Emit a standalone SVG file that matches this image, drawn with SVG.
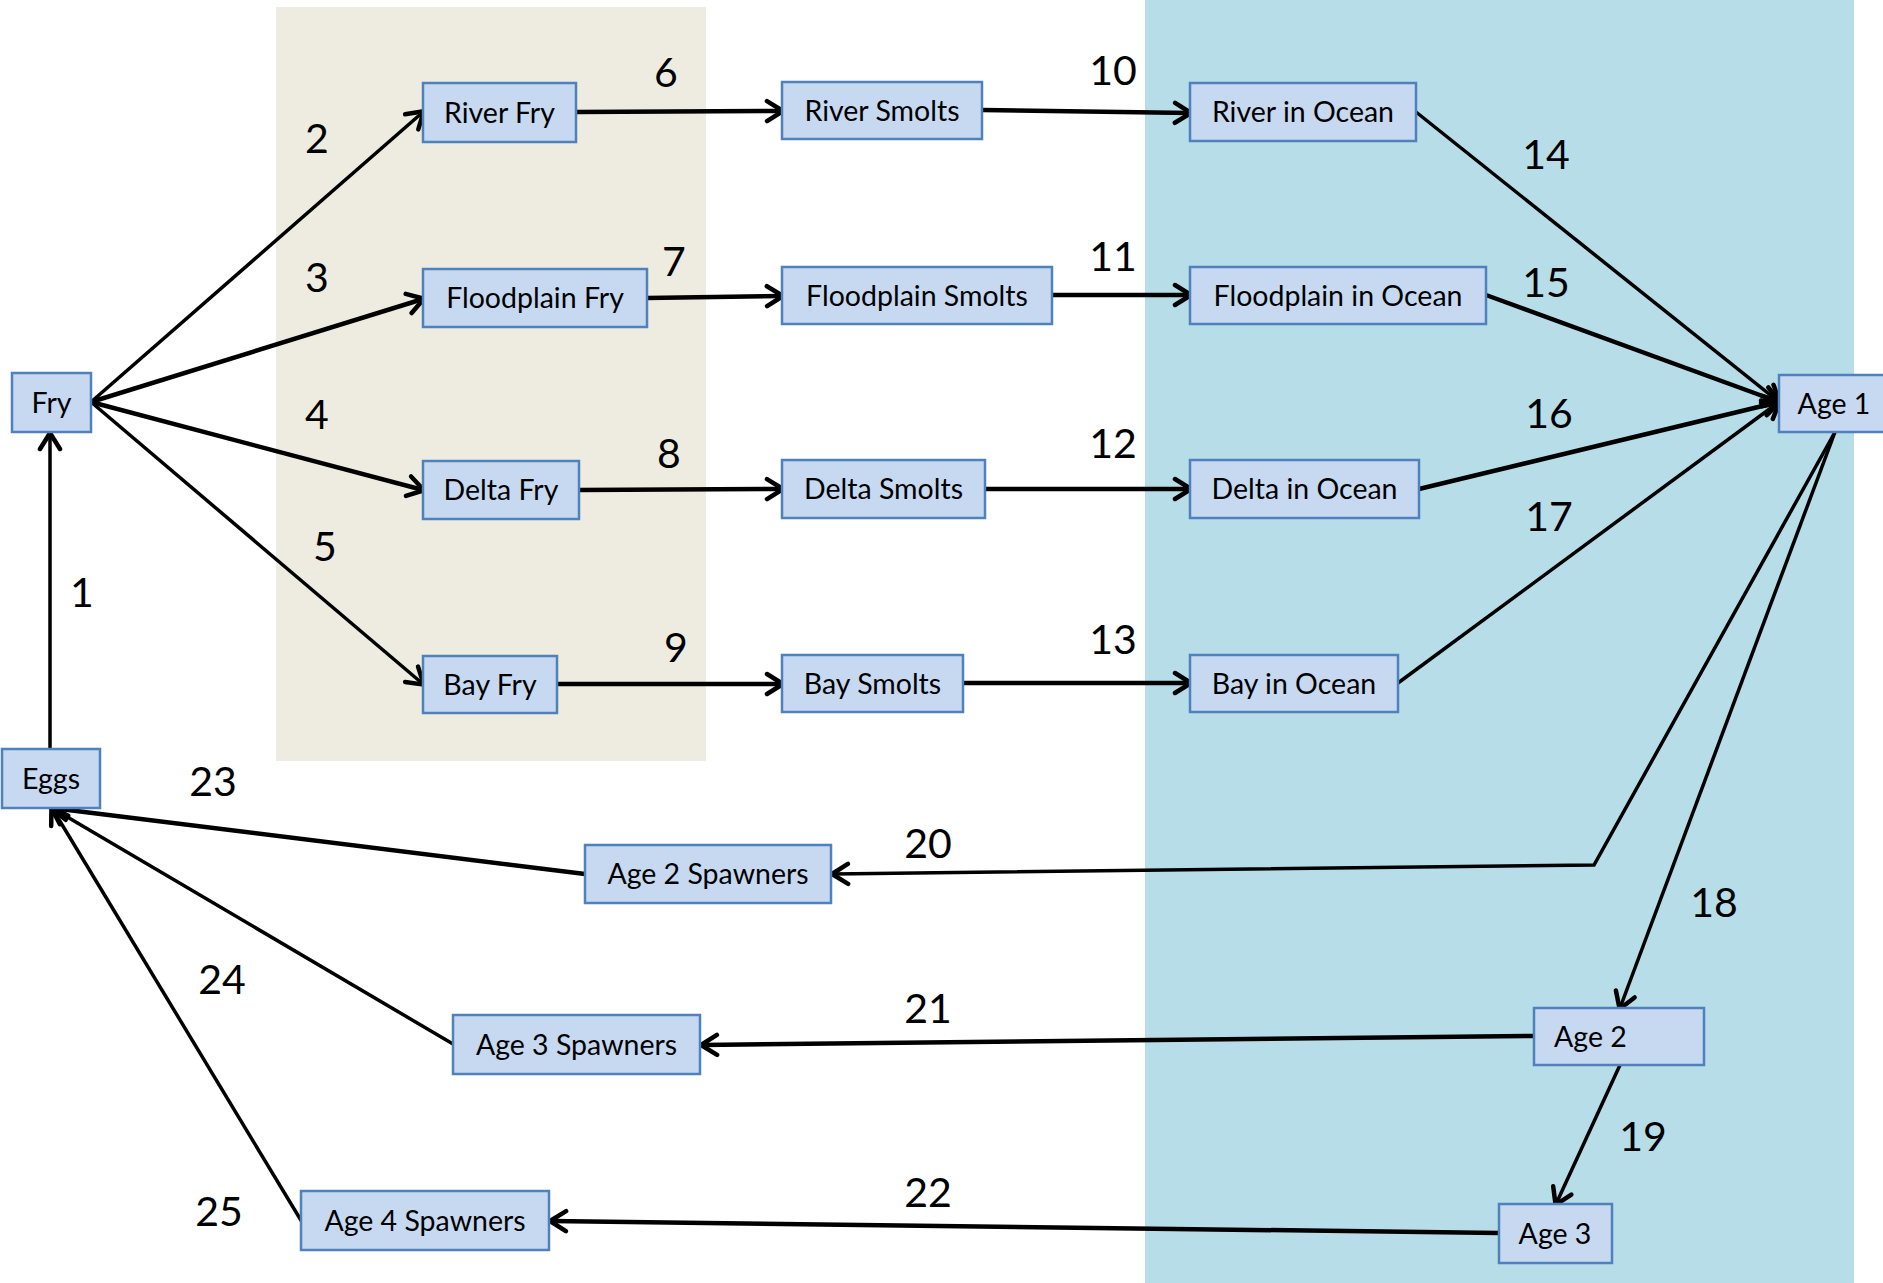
<svg xmlns="http://www.w3.org/2000/svg" width="1883" height="1283" viewBox="0 0 1883 1283">
<style>
.bg{stroke:none}
.n rect{fill:#C6D9F1;stroke:#4F81BD;stroke-width:2.5}
.n text{font-family:Lato,"Liberation Sans",sans-serif;font-size:28.5px;fill:#000;text-anchor:middle}
.lbl{font-family:Lato,"Liberation Sans",sans-serif;font-size:41px;fill:#000;text-anchor:middle}
.c line,.c polyline{stroke:#000;fill:none;stroke-width:4.5;marker-end:url(#ah)}
.c .t{stroke-width:3.5}
</style>
<defs>
<marker id="ah" markerUnits="userSpaceOnUse" viewBox="0 0 22 26" refX="18" refY="13" markerWidth="22" markerHeight="26" orient="auto">
<path d="M3,3 L19,13 L3,23" fill="none" stroke="#000" stroke-width="4.5" stroke-linecap="round" stroke-linejoin="round"/>
</marker>
</defs>
<rect class="bg" x="276" y="7" width="430" height="754" fill="#EEECE1"/>
<rect class="bg" x="1145" y="0" width="709" height="1283" fill="#B7DDE8"/>
<g id="connectors" class="c">
<line class="t" x1="50" y1="749" x2="50" y2="434"/>
<line class="t" x1="91" y1="402" x2="423" y2="112"/>
<line x1="91" y1="402" x2="423" y2="299"/>
<line x1="91" y1="402" x2="423" y2="490"/>
<line class="t" x1="91" y1="402" x2="423" y2="684"/>
<line x1="576" y1="112" x2="782" y2="111"/>
<line x1="647" y1="298" x2="782" y2="296"/>
<line x1="579" y1="490" x2="782" y2="489"/>
<line x1="557" y1="684" x2="782" y2="684"/>
<line x1="982" y1="110" x2="1190" y2="113"/>
<line x1="1052" y1="295" x2="1190" y2="295"/>
<line x1="985" y1="489" x2="1190" y2="489"/>
<line x1="963" y1="683" x2="1190" y2="683"/>
<line class="t" x1="1416" y1="112" x2="1779" y2="402"/>
<line x1="1486" y1="295" x2="1779" y2="402"/>
<line x1="1419" y1="489" x2="1779" y2="402"/>
<line class="t" x1="1398" y1="683" x2="1779" y2="402"/>
<line class="t" x1="1835" y1="432" x2="1620" y2="1008"/>
<line class="t" x1="1620" y1="1065" x2="1556" y2="1204"/>
<polyline class="t" points="1835,432 1594,865 833,874"/>
<line x1="1534" y1="1036" x2="702" y2="1045"/>
<line x1="1499" y1="1233" x2="551" y2="1221"/>
<line x1="585" y1="874" x2="52" y2="808"/>
<line class="t" x1="453" y1="1044" x2="52" y2="808"/>
<line class="t" x1="302" y1="1222" x2="52" y2="808"/>
</g>
<g id="fry" class="n"><rect x="12" y="373" width="79" height="59"/><text x="51.5" y="413">Fry</text></g>
<g id="eggs" class="n"><rect x="2" y="749" width="98" height="59"/><text x="51" y="789">Eggs</text></g>
<g id="river-fry" class="n"><rect x="423" y="83" width="153" height="59"/><text x="499.5" y="123">River Fry</text></g>
<g id="floodplain-fry" class="n"><rect x="423" y="269" width="224" height="58"/><text x="535" y="308">Floodplain Fry</text></g>
<g id="delta-fry" class="n"><rect x="423" y="461" width="156" height="58"/><text x="501" y="500">Delta Fry</text></g>
<g id="bay-fry" class="n"><rect x="423" y="656" width="134" height="57"/><text x="490" y="695">Bay Fry</text></g>
<g id="river-smolts" class="n"><rect x="782" y="82" width="200" height="57"/><text x="882" y="121">River Smolts</text></g>
<g id="floodplain-smolts" class="n"><rect x="782" y="267" width="270" height="57"/><text x="917" y="306">Floodplain Smolts</text></g>
<g id="delta-smolts" class="n"><rect x="782" y="460" width="203" height="58"/><text x="883.5" y="499">Delta Smolts</text></g>
<g id="bay-smolts" class="n"><rect x="782" y="655" width="181" height="57"/><text x="872.5" y="694">Bay Smolts</text></g>
<g id="river-ocean" class="n"><rect x="1190" y="83" width="226" height="58"/><text x="1303" y="122">River in Ocean</text></g>
<g id="floodplain-ocean" class="n"><rect x="1190" y="267" width="296" height="57"/><text x="1338" y="306">Floodplain in Ocean</text></g>
<g id="delta-ocean" class="n"><rect x="1190" y="460" width="229" height="58"/><text x="1304.5" y="499">Delta in Ocean</text></g>
<g id="bay-ocean" class="n"><rect x="1190" y="655" width="208" height="57"/><text x="1294" y="694">Bay in Ocean</text></g>
<g id="age1" class="n"><rect x="1779" y="375" width="112" height="57"/><text x="1834" y="414">Age 1</text></g>
<g id="age2" class="n"><rect x="1534" y="1008" width="170" height="57"/><text x="1554" y="1047" style="text-anchor:start">Age 2</text></g>
<g id="age3" class="n"><rect x="1499" y="1204" width="113" height="59"/><text x="1555" y="1244">Age 3</text></g>
<g id="age2-spawners" class="n"><rect x="585" y="845" width="246" height="58"/><text x="708" y="884">Age 2 Spawners</text></g>
<g id="age3-spawners" class="n"><rect x="453" y="1015" width="247" height="59"/><text x="576.5" y="1055">Age 3 Spawners</text></g>
<g id="age4-spawners" class="n"><rect x="301" y="1191" width="248" height="59"/><text x="425" y="1231">Age 4 Spawners</text></g>
<g id="labels">
<text class="lbl" x="82" y="607">1</text>
<text class="lbl" x="317" y="153">2</text>
<text class="lbl" x="317" y="292">3</text>
<text class="lbl" x="317" y="429">4</text>
<text class="lbl" x="325" y="561">5</text>
<text class="lbl" x="666" y="87">6</text>
<text class="lbl" x="674" y="276">7</text>
<text class="lbl" x="669" y="468">8</text>
<text class="lbl" x="676" y="662">9</text>
<text class="lbl" x="1113" y="85">10</text>
<text class="lbl" x="1113" y="271">11</text>
<text class="lbl" x="1113" y="458">12</text>
<text class="lbl" x="1113" y="654">13</text>
<text class="lbl" x="1546" y="169">14</text>
<text class="lbl" x="1546" y="297">15</text>
<text class="lbl" x="1549" y="428">16</text>
<text class="lbl" x="1549" y="531">17</text>
<text class="lbl" x="1714" y="917">18</text>
<text class="lbl" x="1643" y="1151">19</text>
<text class="lbl" x="928" y="858">20</text>
<text class="lbl" x="928" y="1023">21</text>
<text class="lbl" x="928" y="1207">22</text>
<text class="lbl" x="213" y="796">23</text>
<text class="lbl" x="222" y="994">24</text>
<text class="lbl" x="219" y="1226">25</text>
</g>
</svg>
